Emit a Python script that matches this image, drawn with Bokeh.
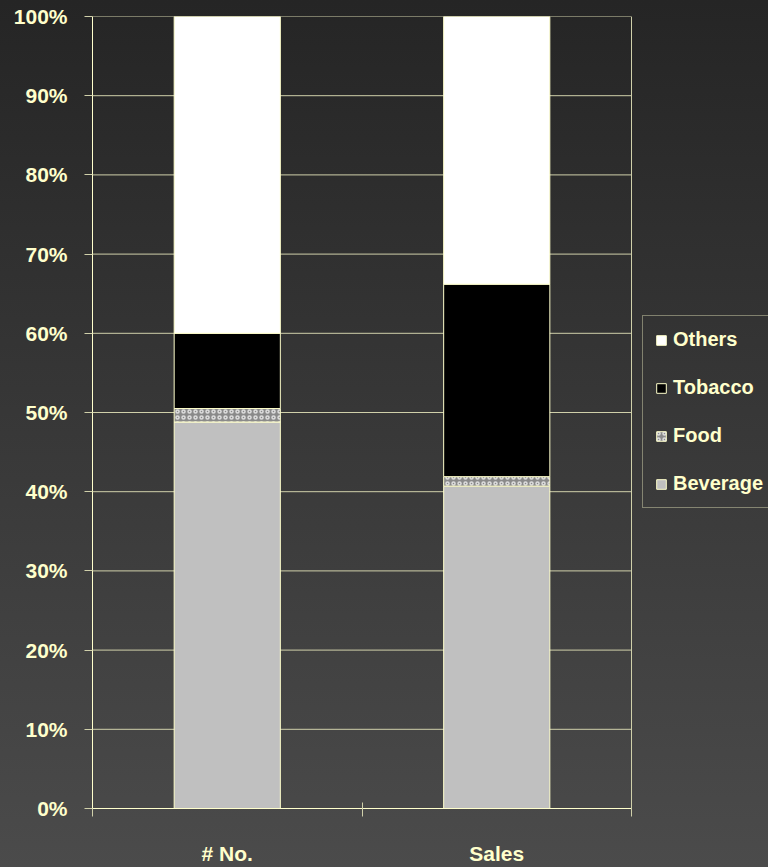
from bokeh.plotting import figure
from bokeh.models import (ColumnDataSource, Range1d, FixedTicker, NumeralTickFormatter,
                          Legend, LegendItem, Span)
from bokeh.embed import file_html
from bokeh.resources import INLINE

# ---- data ----
categories = ["# No.", "Sales"]
beverage = [0.488, 0.407]
food = [0.017, 0.012]
tobacco = [0.095, 0.243]
others = [0.400, 0.338]
series_names = ["Beverage", "Food", "Tobacco", "Others"]
y_ticks = [0.0, 0.1, 0.2, 0.3, 0.4, 0.5, 0.6, 0.7, 0.8, 0.9, 1.0]

PALE = "#ffffcc"
LINE = "#d0d0aa"
FONT = "Liberation Sans"

n_cat = len(categories)
xpos = [i + 0.5 for i in range(n_cat)]
source = ColumnDataSource(dict(x=xpos, Beverage=beverage, Food=food,
                               Tobacco=tobacco, Others=others))

# plot area spans 92..631 px for the categories; the frame continues to the
# window edge so that the legend (placed right of the bars) is not clipped
x_end = n_cat * (768 - 92) / (631 - 92)

p = figure(width=768, height=867, output_backend="svg", toolbar_location=None,
           x_range=Range1d(0, x_end), y_range=Range1d(0, 1),
           min_border_left=92, min_border_right=0, min_border_top=16,
           min_border_bottom=58)
p.border_fill_color = None
p.background_fill_color = None
p.styles = {"background": "linear-gradient(to bottom, #252525 0%, #4b4b4b 100%)"}
p.outline_line_color = None

# horizontal grid lines limited to the category area
p.segment(x0=[0] * len(y_ticks), x1=[n_cat] * len(y_ticks), y0=y_ticks, y1=y_ticks,
          line_color=LINE, line_width=1, level="underlay")
# right border of the plot area
p.add_layout(Span(location=n_cat, dimension="height", line_color=LINE, line_width=1))

renderers = p.vbar_stack(series_names, x="x", width=0.394, source=source,
                         fill_color=["#c0c0c0", "#8a8a8a", "#000000", "#ffffff"],
                         line_color=PALE, line_width=1,
                         hatch_pattern=[" ", "ring", " ", " "],
                         hatch_color=["#c0c0c0", "#dcdcdc", "#000000", "#ffffff"],
                         hatch_scale=[6, 6, 6, 6], hatch_weight=[1, 1.5, 1, 1])

# y axis
p.yaxis.ticker = FixedTicker(ticks=y_ticks)
p.yaxis.formatter = NumeralTickFormatter(format="0%")
p.yaxis.axis_line_color = PALE
p.yaxis.major_tick_line_color = LINE
p.yaxis.major_tick_out = 8
p.yaxis.major_tick_in = 0
p.yaxis.minor_tick_line_color = None
p.yaxis.major_label_standoff = 17
p.yaxis.major_label_text_color = PALE
p.yaxis.major_label_text_font = FONT
p.yaxis.major_label_text_font_style = "bold"
p.yaxis.major_label_text_font_size = "21px"

# x axis
p.xaxis.bounds = (0, n_cat)
p.xaxis.ticker = FixedTicker(ticks=xpos, minor_ticks=list(range(n_cat + 1)))
p.xaxis.major_label_overrides = {xpos[i]: categories[i] for i in range(n_cat)}
p.xaxis.axis_line_color = PALE
p.xaxis.major_tick_line_color = None
p.xaxis.major_tick_out = 0
p.xaxis.major_tick_in = 0
p.xaxis.minor_tick_line_color = LINE
p.xaxis.minor_tick_out = 8
p.xaxis.minor_tick_in = 6
p.xaxis.major_label_standoff = 25
p.xaxis.major_label_text_color = PALE
p.xaxis.major_label_text_font = FONT
p.xaxis.major_label_text_font_style = "bold"
p.xaxis.major_label_text_font_size = "21px"

p.xgrid.grid_line_color = None
p.ygrid.grid_line_color = None

items = [LegendItem(label=series_names[i], renderers=[renderers[i]])
         for i in reversed(range(len(series_names)))]
legend = Legend(items=items, location=(550, 300), orientation="vertical",
                margin=0, padding=12, spacing=25,
                glyph_width=12, glyph_height=12, label_standoff=6,
                label_height=20,
                label_text_color=PALE, label_text_font=FONT,
                label_text_font_style="bold", label_text_font_size="20px",
                border_line_color=LINE, border_line_width=1,
                background_fill_color=None)
p.add_layout(legend, "center")

open("out.html", "w").write(file_html(p, INLINE))
